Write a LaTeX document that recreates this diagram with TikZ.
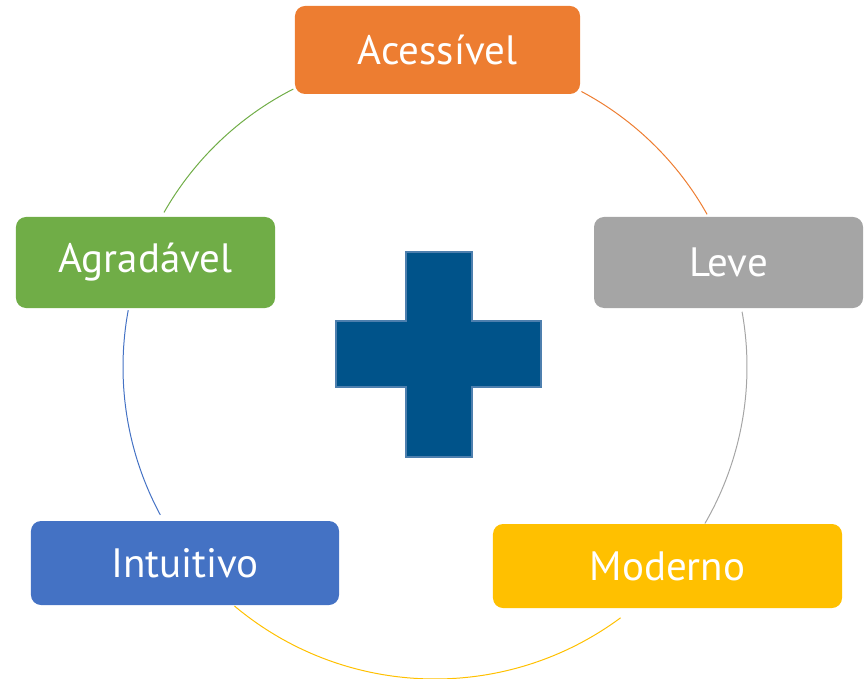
\documentclass[tikz,border=0pt]{standalone}
\usepackage{fontspec}
\setmainfont{PT Sans}
\definecolor{corLaranja}{HTML}{ED7D31}
\definecolor{corCinza}{HTML}{A5A5A5}
\definecolor{corAmarelo}{HTML}{FFC000}
\definecolor{corAzul}{HTML}{4472C4}
\definecolor{corVerde}{HTML}{70AD47}
\definecolor{corCruz}{HTML}{00538A}
\definecolor{corBordaCruz}{HTML}{4D7FAE}
\begin{document}
\begin{tikzpicture}[x=0.03cm,y=-0.03cm,
  caixa/.style={fill=#1,rounded corners=0.3cm,text=white,inner sep=0pt,
    font=\fontsize{35}{40}\selectfont,minimum height=2.6cm},
  arco/.style={draw=#1,line width=0.85pt}]
\useasboundingbox (0,0) rectangle (864,679);
\coordinate (centro) at (435,367);
\def\R{312*0.03cm}
% caixas
\node[caixa=corLaranja,minimum width=8.55cm,minimum height=2.64cm] (acessivel) at (437.5,50) {Acessível};
\node[caixa=corCinza,minimum width=8.07cm,minimum height=2.73cm] (leve) at (728.5,262.5) {Leve};
\node[caixa=corAmarelo,minimum width=10.47cm,minimum height=2.52cm] (moderno) at (667.5,566) {Moderno};
\node[caixa=corAzul,minimum width=9.24cm,minimum height=2.52cm] (intuitivo) at (185,563) {Intuitivo};
\node[caixa=corVerde,minimum width=7.77cm,minimum height=2.73cm] (agradavel) at (145.5,262.5) {Agradável};
% arcos
\draw[arco=corLaranja] ([shift={(62:\R)}]centro) arc[start angle=62,end angle=29.3,radius=\R];
\draw[arco=corCinza] ([shift={(10.2:\R)}]centro) arc[start angle=10.2,end angle=-30.1,radius=\R];
\draw[arco=corAmarelo] ([shift={(-53.5:\R)}]centro) arc[start angle=-53.5,end angle=-130,radius=\R];
\draw[arco=corAzul] ([shift={(208.3:\R)}]centro) arc[start angle=208.3,end angle=169.5,radius=\R];
\draw[arco=corVerde] ([shift={(150.3:\R)}]centro) arc[start angle=150.3,end angle=117,radius=\R];
% cruz
\draw[fill=corCruz,draw=corBordaCruz,line width=1.5pt]
  (406,252) -- (472,252) -- (472,321) -- (541,321) -- (541,387) -- (472,387)
  -- (472,457) -- (406,457) -- (406,387) -- (336,387) -- (336,321) -- (406,321) -- cycle;
\end{tikzpicture}
\end{document}
